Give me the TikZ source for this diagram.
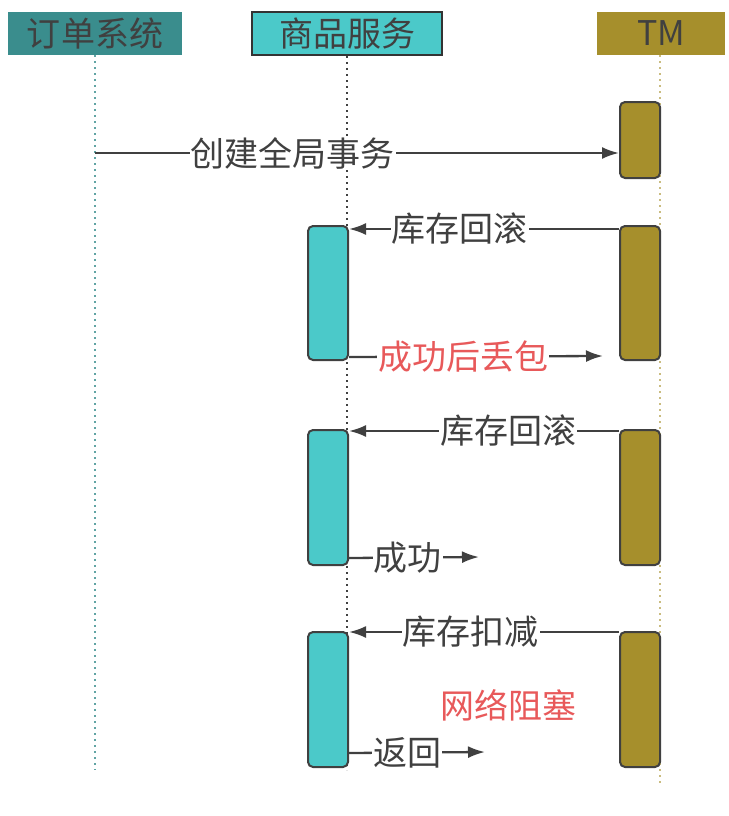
\documentclass[tikz,border=0pt]{standalone}
\usepackage{fontspec}
\setmainfont{Noto Sans CJK SC}
\usepackage{xcolor}
\usepackage{tikz}
\usetikzlibrary{arrows.meta, positioning}

\definecolor{orderteal}{HTML}{3A8D8D}
\definecolor{svcteal}{HTML}{4BC9C9}
\definecolor{tmolive}{HTML}{A68F2C}
\definecolor{txtgray}{HTML}{404040}
\definecolor{lblred}{HTML}{E8595A}

\tikzset{
	header/.style={shape=rectangle, minimum height=43pt, inner sep=0pt, text=txtgray, font=\fontsize{34}{38}\selectfont},
	actbox/.style={shape=rectangle, rounded corners=5pt, draw=txtgray, line width=2pt, minimum width=40pt, inner sep=0pt},
	lifeline/.style={line width=2pt, dash pattern=on 2pt off 4pt},
	msg/.style={-{Latex[length=17pt, width=12pt]}, line width=2.3pt, draw=txtgray},
	msglabel/.style={fill=white, inner sep=1pt, text=txtgray, font=\fontsize{34}{38}\selectfont},
}

\begin{document}
\begin{tikzpicture}[x=1pt, y=-1pt]
	\useasboundingbox (0, 0) rectangle (728, 816);
	% Headers:
	\node[header, fill=orderteal, minimum width=174pt] (order) at (95, 33.5){订单系统};
	\node[header, fill=svcteal, draw=black!80, line width=2pt, minimum width=190pt] (svc) at (347, 33.5){商品服务};
	\node[header, fill=tmolive, minimum width=128pt] (tm) at (661, 33.5){TM};
	% Lifelines:
	\coordinate (orderEnd) at (95, 770);
	\coordinate (svcEnd) at (347, 770);
	\coordinate (tmEnd) at (660, 786);
	\draw[lifeline, draw=orderteal!80] (order.south) -- (orderEnd);
	\draw[lifeline, draw=txtgray] (svc.south) -- (svcEnd);
	\draw[lifeline, draw=tmolive!60] (tm.south -| tmEnd) -- (tmEnd);
	% Activation boxes:
	\node[actbox, fill=tmolive, minimum height=76pt] (tmA) at (640, 140){};
	\node[actbox, fill=tmolive, minimum height=134pt] (tmB) at (640, 293){};
	\node[actbox, fill=tmolive, minimum height=135pt] (tmC) at (640, 497.5){};
	\node[actbox, fill=tmolive, minimum height=135pt] (tmD) at (640, 699.5){};
	\node[actbox, fill=svcteal, minimum height=134pt] (svA) at (328, 293){};
	\node[actbox, fill=svcteal, minimum height=135pt] (svB) at (328, 497.5){};
	\node[actbox, fill=svcteal, minimum height=135pt] (svC) at (328, 699.5){};
	% Messages:
	\coordinate (beginTx) at (95, 153);
	\draw[msg] (beginTx) -- node[msglabel, pos=0.377]{创建全局事务} (beginTx -| tmA.west);
	\draw[msg] ([yshift=-4pt]tmB.north west) -- node[msglabel, pos=0.59]{库存回滚} ([yshift=-4pt]svA.north east);
	\coordinate (lostEnd) at (603, 356);
	\draw[msg] ([yshift=4pt]svA.south east) -- node[msglabel, text=lblred, pos=0.45]{成功后丢包} (lostEnd);
	\draw[msg] ([yshift=-2pt]tmC.north west) -- node[msglabel, pos=0.41]{库存回滚} ([yshift=-2pt]svB.north east);
	\coordinate (okEnd) at (479, 557);
	\draw[msg] ([yshift=8pt]svB.south east) -- node[msglabel, pos=0.45]{成功} (okEnd);
	\draw[msg] ([yshift=-1pt]tmD.north west) -- node[msglabel, pos=0.55]{库存扣减} ([yshift=-1pt]svC.north east);
	\node[msglabel, text=lblred] (netBlock) at (508, 705){网络阻塞};
	\coordinate (retEnd) at (485, 752);
	\draw[msg] ([yshift=15pt]svC.south east) -- node[msglabel, pos=0.43]{返回} (retEnd);
\end{tikzpicture}
\end{document}
